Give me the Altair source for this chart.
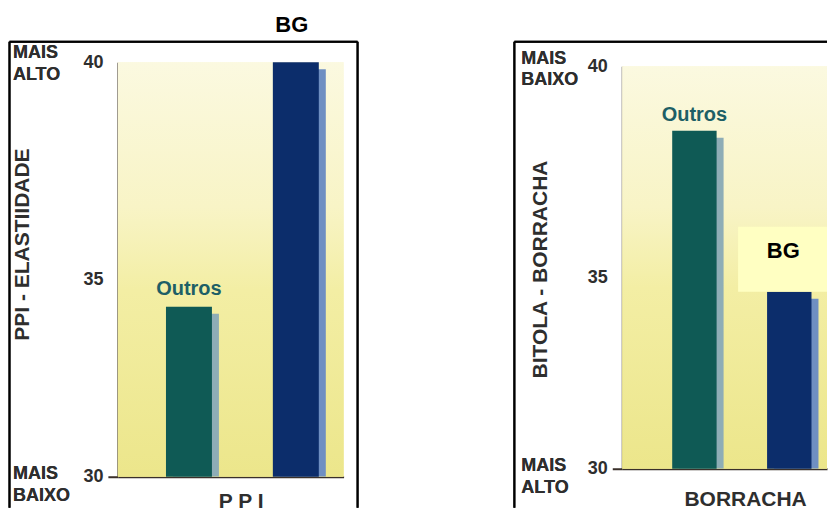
import altair as alt
import pandas as pd

categories = ["Outros", "BG"]
ppi_values = [34.1, 40.0]
borracha_values = [38.4, 34.4]
y_ticks = [30, 35, 40]
bar_colors = ["#0f5a55", "#0c2d6b"]
shadow_colors = ["#8eadb6", "#6f8fc2"]

ppi_df = pd.DataFrame({"grupo": categories, "valor": ppi_values})
bor_df = pd.DataFrame({"grupo": categories, "valor": borracha_values})

FONT = "Liberation Sans"
TXT = "#2e2e2e"
DARK = "#3a302a"

bg_gradient = alt.Gradient(
    gradient="linear", x1=0, x2=0, y1=0, y2=1,
    stops=[
        alt.GradientStop(offset=0, color="#fbf9e0"),
        alt.GradientStop(offset=0.35, color="#f8f4c6"),
        alt.GradientStop(offset=0.55, color="#f3eea4"),
        alt.GradientStop(offset=1, color="#ece68b"),
    ],
)


def build_panel(df, yrange, xpad, ytitle, ytitle_x, ytitle_y,
                xtitle, xtitle_y, side_top, side_bottom, top_dy, bottom_dy,
                side_x, frame_left, frame_right, outros_dy):
    yscale = alt.Scale(domain=[30, 40], nice=False, zero=False, **({"range": yrange} if yrange else {}))
    yaxis = alt.Axis(
        values=y_ticks, title=ytitle, titleX=ytitle_x, titleY=ytitle_y, titleAngle=-90,
        titleAlign="center", titleBaseline="middle", titleFontSize=21, titleFont=FONT,
        titleFontWeight="bold", titleColor=TXT, labelFont=FONT, labelFontSize=18,
        labelFontWeight="bold", labelColor=TXT, labelPadding=5, tickSize=10, tickWidth=2,
        tickColor=DARK,
        tickOpacity={"condition": {"test": "datum.value == 30", "value": 1}, "value": 0},
        labelOffset={"condition": {"test": "datum.value == 35", "value": 10}, "value": 0},
        domainColor=DARK, domainWidth=2, grid=False,
    )
    xscale = alt.Scale(domain=categories, paddingInner=xpad[0], paddingOuter=xpad[1], align=xpad[2])
    xaxis = alt.Axis(
        labels=False, ticks=False, domainColor=DARK, domainWidth=2, grid=False,
        title=xtitle, titleFont=FONT, titleFontSize=21, titleFontWeight="bold", titleColor=TXT,
        titleX=123, titleY=xtitle_y, titleAlign="center", titleBaseline="middle",
    )
    X = alt.X("grupo:N", scale=xscale, axis=xaxis)
    Y = alt.Y("valor:Q", scale=yscale, axis=yaxis)

    def ydat(v):
        return alt.YDatum(v, type="quantitative", scale=yscale, axis=yaxis)

    base = alt.Chart(df)

    bg = base.mark_rect(fill=bg_gradient).encode(
        x=alt.value(0), x2=alt.value("width"), y=ydat(40), y2=alt.Y2Datum(30)
    )
    shadow = base.mark_bar(xOffset=7, yOffset=7, clip=True).encode(
        x=X, y=Y, y2=alt.Y2Datum(30),
        color=alt.Color("grupo:N", scale=alt.Scale(domain=categories, range=shadow_colors), legend=None),
    )
    bars = base.mark_bar().encode(
        x=X, y=Y, y2=alt.Y2Datum(30),
        fill=alt.Fill("grupo:N", scale=alt.Scale(domain=categories, range=bar_colors), legend=None),
    )
    outros_lbl = base.mark_text(
        dy=outros_dy, font=FONT, fontSize=20, fontWeight="bold", color="#1d5f66", baseline="middle"
    ).transform_filter(alt.datum.grupo == "Outros").encode(x=X, y=Y, text="grupo:N")

    side = []
    for (word, dy) in zip(side_top, top_dy):
        side.append(alt.Chart(df).mark_text(
            align="left", baseline="middle", dx=0, dy=dy, font=FONT, fontSize=18,
            fontWeight="bold", color=TXT).encode(x=alt.value(side_x), y=ydat(40), text=alt.value(word)))
    for (word, dy) in zip(side_bottom, bottom_dy):
        side.append(alt.Chart(df).mark_text(
            align="left", baseline="middle", dx=0, dy=dy, font=FONT, fontSize=18,
            fontWeight="bold", color=TXT).encode(x=alt.value(side_x), y=ydat(30), text=alt.value(word)))

    frame_top = base.mark_rule(color="black", strokeWidth=2).encode(
        x=alt.value(frame_left), x2=alt.value(frame_right), y=alt.value(-20.5))
    frame_l = base.mark_rule(color="black", strokeWidth=2).encode(
        x=alt.value(frame_left), y=alt.value(-20.5), y2=alt.value(446))
    layers = [bg, shadow, bars, outros_lbl] + side + [frame_top, frame_l]
    return layers, X, Y, base


# Left panel: PPI
l_layers, lX, lY, lbase = build_panel(
    ppi_df, None, (0.57, 0.341, 0.66), "PPI - ELASTIIDADE", -95.5, 182,
    "P P I", 25, ["MAIS", "ALTO"], ["MAIS", "BAIXO"], [-9, 13], [-3, 19], -105,
    -108.5, 240, -18,
)
l_bg_title = lbase.mark_text(
    font=FONT, fontSize=22, fontWeight="bold", color="black", baseline="middle", dx=-4
).transform_filter(alt.datum.grupo == "BG").encode(x=lX, y=alt.value(-37.5), text="grupo:N")
l_frame_r = lbase.mark_rule(color="black", strokeWidth=2).encode(
    x=alt.value(240), y=alt.value(-20.5), y2=alt.value(446))
anchor = lbase.mark_rule(opacity=0).encode(
    x=alt.value(-100), x2=alt.value(-99), y=alt.value(-54))
left = alt.layer(*l_layers, l_bg_title, l_frame_r, anchor).properties(width=226, height=415)

# Right panel: BORRACHA
r_layers, rX, rY, rbase = build_panel(
    bor_df, [407, 4], (0.532, 0.345, 0.763), "BITOLA - BORRACHA", -82, 207,
    "BORRACHA", 31, ["MAIS", "BAIXO"], ["MAIS", "ALTO"], [-7, 14], [-3, 19], -101,
    -108, "width", -16,
)
r_box = rbase.mark_rect(color="#ffffc2", y2Offset=-65).transform_filter(
    alt.datum.grupo == "BG").encode(x=alt.value(116), x2=alt.value("width"), y=rY, y2=alt.Y2("valor:Q"))
r_box_txt = rbase.mark_text(
    font=FONT, fontSize=22, fontWeight="bold", color="black", baseline="middle", dx=-6, dy=-41
).transform_filter(alt.datum.grupo == "BG").encode(x=rX, y=rY, text="grupo:N")
right = alt.layer(*r_layers, r_box, r_box_txt).properties(width=205, height=407)

chart = alt.hconcat(left, right, spacing=279, bounds="flush").properties(
    padding=0, background="white"
).configure_view(stroke=None)

chart.save("out.html", embed_options={"renderer": "svg", "actions": False})
